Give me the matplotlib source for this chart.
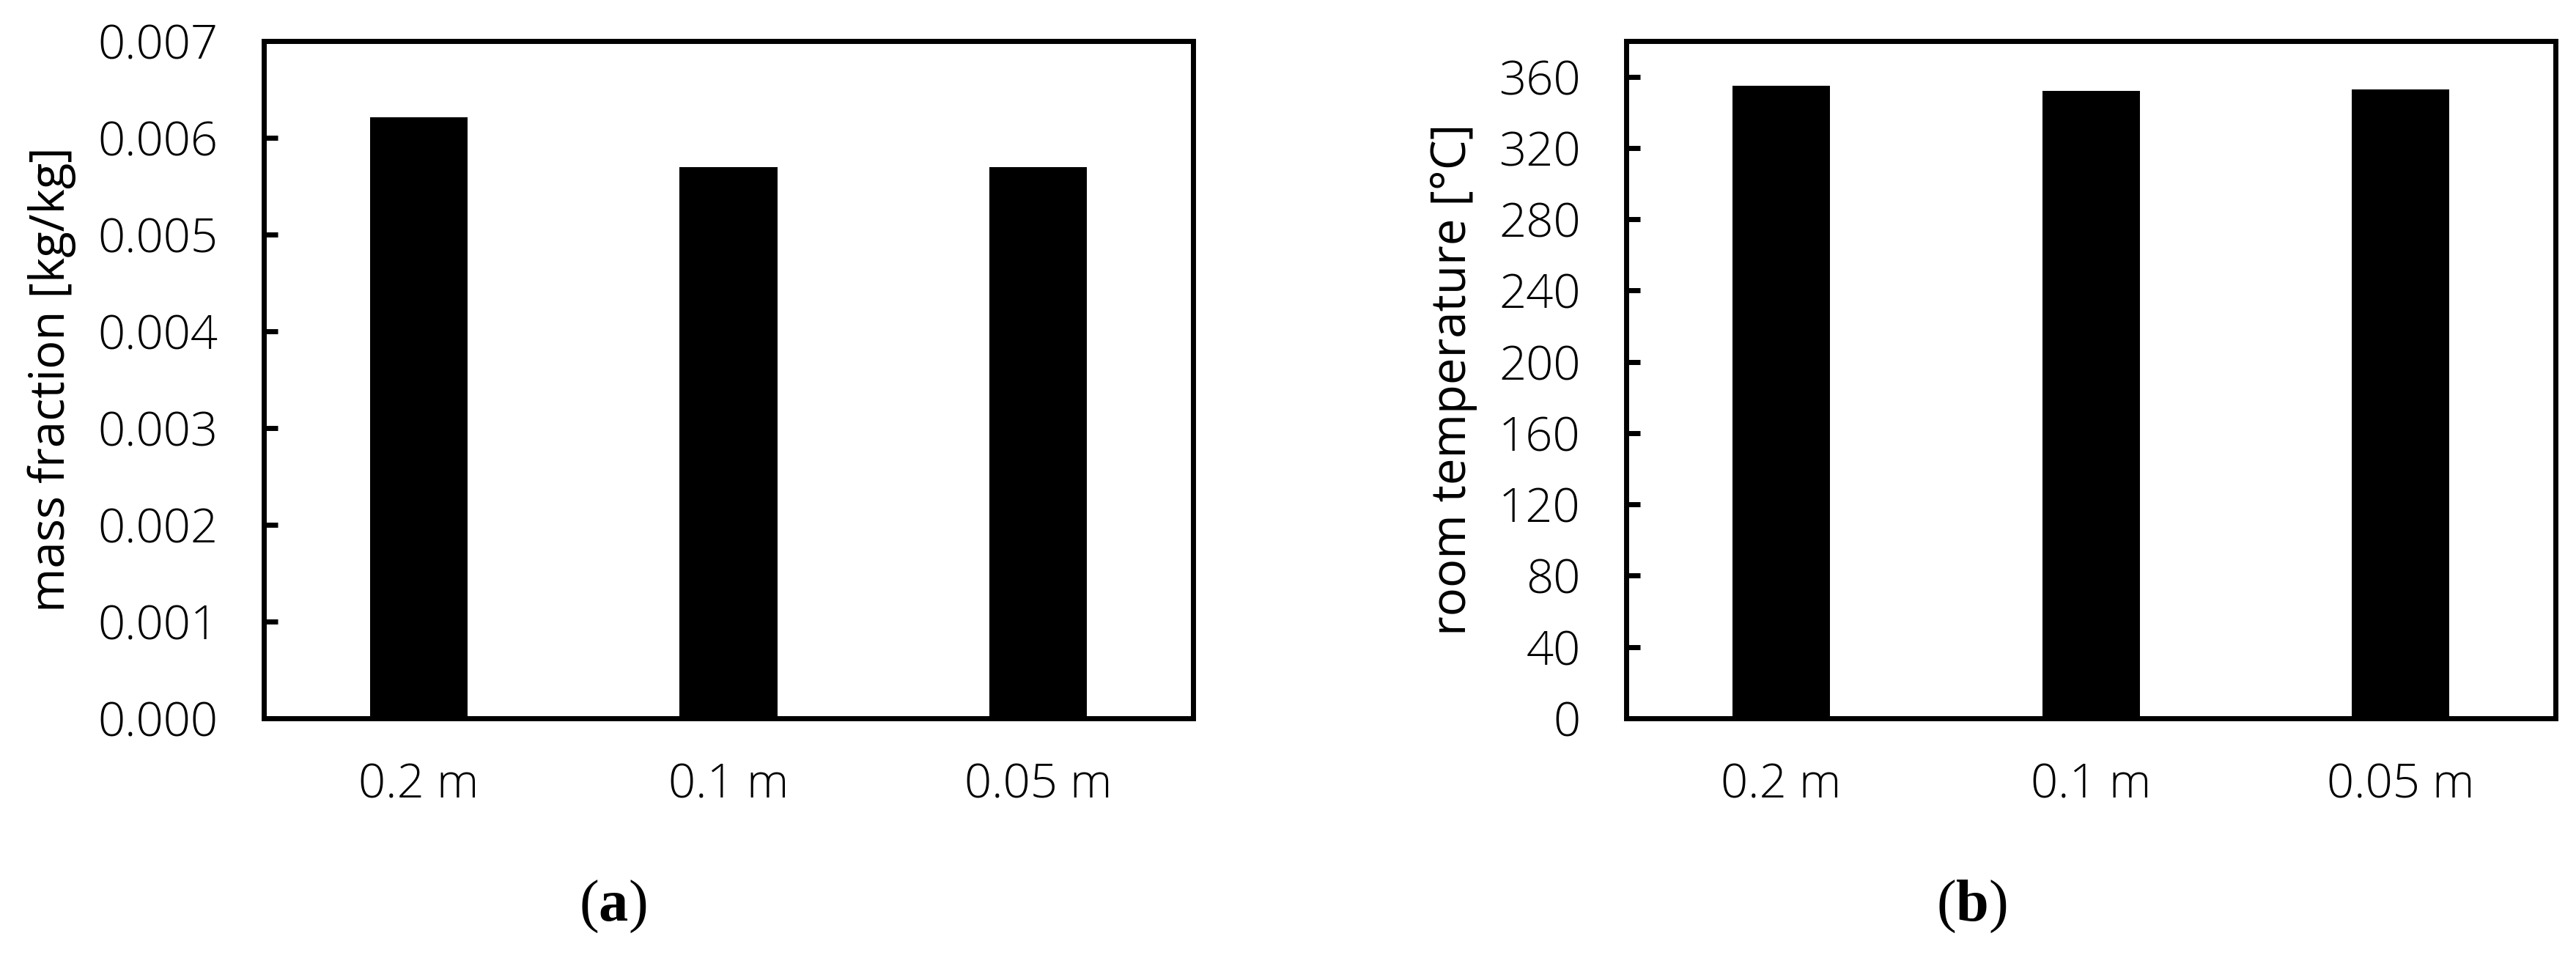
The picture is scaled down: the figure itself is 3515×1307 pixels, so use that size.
import matplotlib
matplotlib.use("Agg")
import matplotlib.pyplot as plt
from matplotlib.ticker import FormatStrFormatter

plt.rcParams["font.family"] = ["Open Sans", "DejaVu Sans"]
plt.rcParams["font.weight"] = "light"
plt.rcParams["mathtext.fontset"] = "custom"
plt.rcParams["mathtext.rm"] = "Liberation Serif"
plt.rcParams["mathtext.bf"] = "Liberation Serif:bold"

cats = ["0.2 m", "0.1 m", "0.05 m"]
mass_frac = [0.00621, 0.0057, 0.0057]
room_temp = [355, 352, 353]

fig = plt.figure(figsize=(35.15, 13.07), dpi=100)
ax_a = fig.add_axes([0.1024, 0.2502, 0.3608, 0.707])
ax_b = fig.add_axes([0.6313, 0.2502, 0.3608, 0.707])

FS = 47


def style(ax, vals, ylim, yticks, ylabel):
    x = range(len(cats))
    ax.bar(x, vals, width=0.315, color="black", linewidth=0)
    ax.set_xlim(-0.5, 2.5)
    ax.set_ylim(*ylim)
    ax.set_yticks(yticks)
    ax.set_xticks(list(x))
    ax.set_xticklabels(cats)
    for s in ax.spines.values():
        s.set_linewidth(5)
    ax.tick_params(axis="x", length=0, pad=43, labelsize=FS)
    ax.tick_params(axis="y", direction="in", length=14, width=5, pad=45, labelsize=FS)
    ax.set_ylabel(ylabel, fontsize=FS, labelpad=21)


style(ax_a, mass_frac, (0, 0.007), [i * 0.001 for i in range(8)], "mass fraction [kg/kg]")
ax_a.yaxis.set_major_formatter(FormatStrFormatter("%.3f"))
style(ax_b, room_temp, (0, 380), list(range(0, 361, 40)), "room temperature [°C]")

cap = dict(fontsize=58, ha="center", va="center", family="Liberation Serif", weight="normal")
fig.text(0.238, 0.0536, r"($\mathbf{a}$)", **cap)
fig.text(0.7655, 0.0536, r"($\mathbf{b}$)", **cap)

fig.savefig("out.png", dpi=100)
